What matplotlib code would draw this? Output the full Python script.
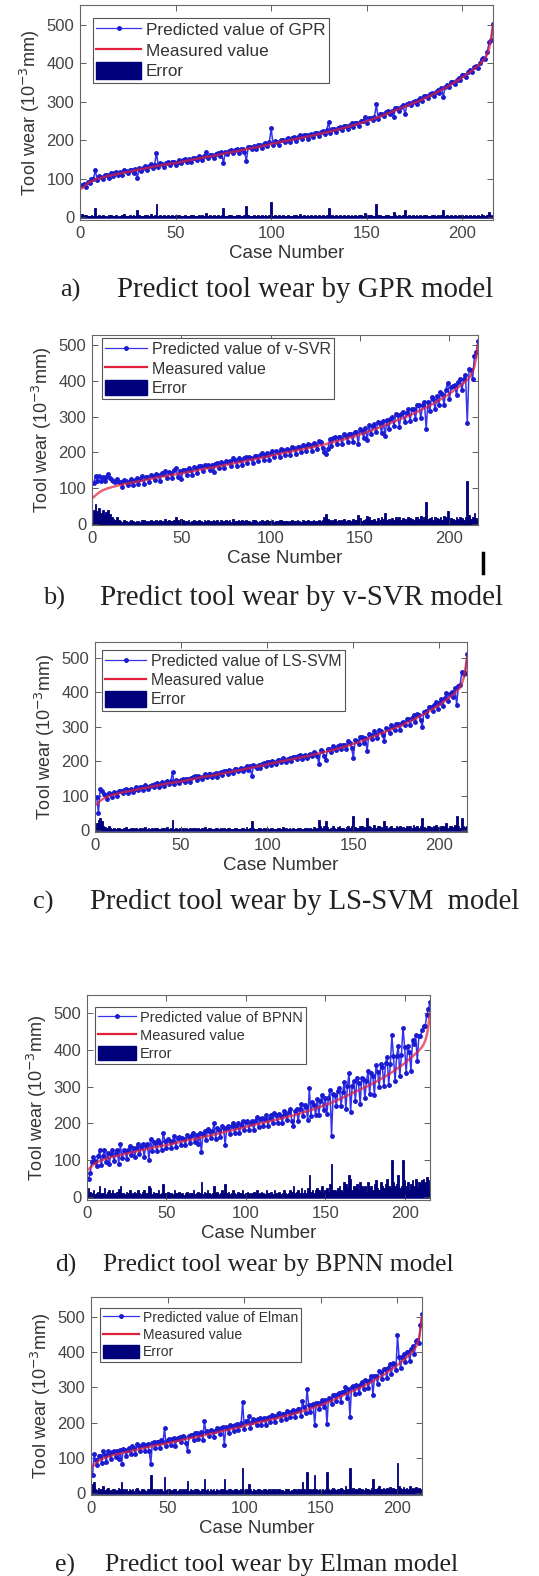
import numpy as np
import matplotlib
matplotlib.use("Agg")
import matplotlib.pyplot as plt
from matplotlib.patches import Patch
from matplotlib.lines import Line2D

W, H = 539, 1576

# measured tool wear, cases 1..216 (10^-3 mm)
measured = [
    75, 80, 84, 88, 91, 94, 96, 98, 100, 101, 103, 104, 105, 107, 108, 109, 110, 111, 112, 113, 114, 115, 116, 117,
    118, 119, 120, 121, 122, 123, 124, 125, 126, 127, 128, 129, 130, 131, 132, 133, 134, 135, 136, 136, 137, 138, 139, 140,
    140, 141, 142, 143, 144, 145, 146, 147, 148, 149, 150, 151, 152, 153, 154, 155, 156, 157, 157, 158, 159, 160, 161, 162,
    163, 164, 165, 166, 167, 168, 169, 170, 171, 172, 173, 174, 175, 176, 177, 178, 179, 180, 181, 182, 183, 184, 185, 186,
    187, 188, 189, 191, 192, 193, 194, 195, 196, 197, 198, 199, 200, 201, 202, 203, 204, 205, 206, 207, 208, 209, 210, 211,
    212, 213, 214, 215, 216, 218, 219, 220, 221, 222, 223, 225, 226, 227, 228, 230, 231, 232, 234, 235, 236, 238, 239, 241,
    242, 244, 245, 247, 248, 250, 252, 253, 255, 257, 259, 260, 262, 264, 266, 268, 270, 272, 274, 276, 278, 280, 282, 284,
    286, 288, 290, 292, 294, 296, 298, 300, 302, 304, 306, 309, 311, 313, 316, 318, 321, 323, 326, 328, 331, 334, 336, 339,
    342, 345, 348, 351, 354, 357, 360, 364, 367, 371, 375, 378, 382, 386, 390, 394, 398, 403, 408, 415, 425, 440, 465, 500,
]

# signed error (predicted - measured) of each model
err_gpr = [
    8, 6, -5, 4, -3, 5, 3, 25, -4, 6, 3, -5, 4, 2, -6, 5, -3, 4, 6, -2, 3, -5, 8, 4,
    -3, 5, 4, -6, 3, -20, 5, -4, 3, 6, -5, 4, 8, -3, 5, 35, -4, 6, 3, -5, 4, 7, -3, 5,
    4, -6, 3, 5, -4, 3, 6, -3, 4, -5, 5, 3, -4, 6, 3, -5, 4, 12, -3, 5, 4, -6, 3, 5,
    -4, 6, -25, 4, -3, 5, 6, -4, 3, 5, -6, 4, 3, -5, -30, 6, 4, -3, 5, -4, 6, 3, -5, 4,
    5, -3, 6, 40, -4, 5, 3, -6, 4, 5, -3, 4, 6, -4, 3, 5, -5, 4, 8, -3, 5, 4, -6, 3,
    5, -4, 6, 3, -5, 4, 5, -3, 6, 25, -4, 5, 3, -6, 4, 5, -3, 6, 4, -5, 3, 6, -4, 5,
    4, -6, 5, 3, 12, -4, 6, 5, -3, 4, 35, -5, 6, 4, -3, 5, 6, -4, 3, -15, 5, 4, -6, 3,
    5, -20, 4, 6, -3, 5, 4, -6, 3, 5, -4, 6, 5, -3, 4, 6, -5, 3, 5, -4, 6, -20, 4, 5,
    -3, 6, 4, -5, 3, 5, -4, 6, 3, -5, 4, 6, -3, 5, 4, -6, 3, 8, 5, -4, 6, 15, -5, 3,
]
err_svr = [
    40, 55, 35, 45, 30, 38, 25, 32, 40, 28, 20, 15, 12, 18, 10, 8, -6, 12, 9, -5, 7, 10, -8, 6,
    9, -7, 5, 12, -10, 8, 6, -9, 11, 7, -6, 10, 8, -12, 9, 6, 15, -8, 10, 7, -9, 12, 18, -10,
    8, -15, 10, 7, -8, 12, 6, -9, 10, 8, -7, 11, 9, -6, 12, 8, 10, -7, 9, -12, 8, 11, -6, 10,
    7, -9, 12, 8, 10, -6, 14, 9, -8, 11, 7, -10, 8, 12, -7, 9, 6, -11, 10, 8, -6, 9, 12, -8,
    7, 10, -9, 8, 11, -6, 9, 7, -10, 12, 8, -7, 9, 6, -8, 11, 7, -9, 10, 8, -6, 12, 9, -7,
    10, 8, -9, 11, 7, -8, 12, 9, -10, -20, -28, -15, 10, -8, 12, 14, -9, 10, 8, -12, 15, 9, -10, 11,
    8, -14, 12, 10, -25, 16, 9, -12, 14, -22, 18, -10, 12, 15, -9, 16, 11, -18, 14, -30, 12, -15, 10, 16,
    -12, 18, 14, -20, 12, 16, -14, 10, 18, -16, 14, 12, -18, 20, 15, -22, 12, 18, -60, 14, -16, 20, 12, -18,
    16, -14, 20, 12, -22, 18, 35, -15, 16, 14, 12, -18, 15, 20, -16, 12, 18, -120, 25, 14, -20, 30, 16, 10,
]
err_ls = [
    20, -30, 35, 25, 12, 8, -6, 10, 5, -4, 7, 3, -5, 6, 4, -3, 5, 8, -4, 3, 6, -5, 4, 7,
    -3, 5, 4, -6, 8, 3, -5, 4, 6, -3, 5, 7, -4, 3, 6, -5, 4, 8, -3, 5, 30, -4, 6, 3,
    -5, 4, 6, -3, 5, 4, -6, 3, 5, 7, -4, 6, 3, -5, 4, 8, -3, 5, 6, -4, 3, 5, -6, 4,
    6, -3, 5, 4, -5, 7, 3, -4, 6, 5, -3, 4, 6, -5, 3, 8, -4, 5, -25, 6, 4, -3, 5, -6,
    4, 6, -3, 5, 4, -5, 7, 3, -4, 6, 5, -3, 8, 4, -6, 3, 5, -4, 6, 4, -3, 5, 7, -4,
    3, 6, -5, 4, 5, -3, 8, 4, -6, -30, 10, 5, -12, -25, 8, 4, -6, 12, 5, -4, 8, 10, -5, 6,
    4, -8, 12, 6, -10, -40, 8, 5, -6, 12, 10, -8, 6, -35, 12, 8, -6, 14, 5, -10, 12, 8, -6, -25,
    10, 6, -8, 12, 5, -6, 10, 8, -12, 6, 9, -5, 12, 8, -10, 6, 14, -8, 10, 5, -12, -35, 8, 6,
    -10, 12, 8, -6, 10, 14, -8, 6, 12, -10, 8, 20, -6, 10, 12, -8, 15, -40, 10, 6, 35, 12, -8, 10,
]
err_bp = [
    -25, -15, 12, 20, 8, -10, 15, 30, -12, 10, 25, -8, 15, -18, 10, 20, -12, 8, 15, -22, 30, -10, 12, 8,
    -15, 10, 20, -8, 12, -14, 10, 18, -10, 8, 15, -20, 10, 12, -30, 25, -8, 15, 10, -12, 18, 8, -10, 35,
    12, -8, 15, 10, -12, 8, 20, -10, 12, 15, -8, 10, 6, -12, 15, 8, -10, 12, 18, -8, 10, -15, 12, -40,
    8, 15, -10, 20, 12, -8, 10, 30, -12, 15, 8, -10, 18, 12, -35, 10, 15, -8, 12, 20, -10, 8, 15, -12,
    10, 18, -8, 12, 15, -10, 8, 12, -15, 10, 20, -8, 12, 15, -10, 8, 18, -12, 10, 15, -8, 20, 12, -10,
    15, 8, -12, 18, 10, -8, 12, 20, -15, -30, 10, 15, -20, 12, 25, -10, 18, 12, -25, 60, -15, 20, 12, -18,
    25, -20, 15, 30, -12, 20, -25, 15, 35, -90, 20, 18, -15, 25, 30, -20, 15, 40, -35, 25, 60, -50, 20, 30,
    -25, 35, 20, -40, 30, 25, -30, 15, 40, -25, 30, 20, -35, 45, 25, -20, 40, 30, -25, 35, 50, -30, 25, 100,
    40, -30, 35, 60, -25, 30, 100, 45, -30, 40, 20, -35, 45, 30, 50, -25, 40, 35, 45, 50, 40, 55, 45, 30,
]
err_el = [
    -25, 30, 10, -8, 15, 12, -10, 20, 8, -12, 15, 6, -8, 10, 12, -6, 8, -15, 10, -30, 12, 8, -10, 6,
    10, -8, 12, 6, -10, 15, 8, -6, 10, 12, -8, 6, 10, -12, -50, 8, 12, -6, 10, 8, -10, 12, 6, 45,
    -8, 10, 12, -6, 8, 10, -12, 6, 8, 10, -6, 12, 8, -10, -35, 6, 10, 8, -6, 12, 10, -8, 6, 10,
    -12, 40, 8, 10, -6, 12, 8, -10, 6, 12, 8, -6, 10, 12, -40, 8, 6, -10, 12, 8, -6, 10, 12, -8,
    6, 10, 70, -8, 12, 8, 25, -10, 6, 12, 8, -6, 10, 12, -8, 6, 10, -12, 8, 10, -6, 12, 8, -10,
    6, 10, 12, -8, 8, 6, -10, 12, 10, -6, 8, 12, -10, 6, 10, 8, -12, 30, 10, -8, 60, 12, -10, 8,
    10, -50, 12, 8, -10, 6, 12, -8, 10, -60, 12, 8, -10, 15, 12, -8, 10, 12, -15, 10, 8, 20, -12, 10,
    -70, 12, 15, -10, 12, 8, -15, 10, 12, -8, 15, 10, -12, 8, 15, -40, 12, 10, -15, 20, 12, -10, 15, 12,
    -15, 10, 18, -12, 15, 10, -10, 85, 20, -15, 12, 18, -10, 15, 12, -20, 10, 15, -12, 18, 10, -15, 12, 8,
]

models = ['GPR', 'v-SVR', 'LS-SVM', 'BPNN', 'Elman']
errors = [err_gpr, err_svr, err_ls, err_bp, err_el]
letters = ['a)', 'b)', 'c)', 'd)', 'e)']
captions = ['Predict tool wear by GPR model',
            'Predict tool wear by v-SVR model',
            'Predict tool wear by LS-SVM  model',
            'Predict tool wear by BPNN model',
            'Predict tool wear by Elman model']
xticks = [0, 50, 100, 150, 200]
yticks = [0, 100, 200, 300, 400, 500]

# layout (pixels): axes left, top, right, bottom
boxes = [(80, 5, 493, 220), (92, 335, 478, 525), (95, 642, 467, 832),
         (87, 995, 430, 1200), (91, 1297, 422, 1495)]
ylims = [(-7, 552), (-3, 528), (-6, 546), (-8, 549), (-6, 557)]
leg_pos = [(93, 18), (102, 338), (102, 650), (95, 1007), (100, 1308)]
leg_fs = [12.3, 11.5, 11.4, 10.5, 10.0]
cap_y = [290, 598, 902, 1265, 1565]
cap_x = [(60, 117), (43, 100), (33, 90), (55, 103), (55, 105)]
cap_fs = [20.8, 21.0, 20.6, 18.4, 18.5]

plt.rcParams['font.family'] = ['Liberation Sans', 'DejaVu Sans']

fig = plt.figure(figsize=(W / 100, H / 100), dpi=100)
fig.patch.set_facecolor('white')

x = np.arange(1, len(measured) + 1)
meas = np.array(measured, dtype=float)

for i in range(5):
    L, T, R, B = boxes[i]
    ax = fig.add_axes([L / W, 1 - B / H, (R - L) / W, (B - T) / H])
    err = np.array(errors[i], dtype=float)
    pred = meas + err

    ax.bar(x, np.abs(err), width=1.0, color='#00007a', edgecolor='#00007a', linewidth=0.6, zorder=1)
    ax.axhline(0, color='#00007a', lw=1.8, zorder=1)
    ax.plot(x, pred, color='#3434f0', lw=1.1, marker='.', ms=5,
            mfc='#1a1ad0', mec='#1a1ad0', zorder=2)
    ax.plot(x, meas, color='#e0203a', lw=1.8, alpha=0.7, zorder=3)

    ax.set_xlim(0, 216)
    ax.set_ylim(*ylims[i])
    ax.set_xticks(xticks)
    ax.set_yticks(yticks)
    ax.tick_params(direction='in', length=4, width=0.6, top=True, right=True,
                   labelsize=12, colors='#444444', pad=4)
    for s in ax.spines.values():
        s.set_color('#666666')
        s.set_linewidth(0.8)
    ax.set_xlabel('Case Number', fontsize=13.5, color='#333333', labelpad=3)
    ax.set_ylabel('Tool wear (10$^{-3}$mm)', fontsize=13, color='#333333', labelpad=3)

    handles = [Line2D([], [], color='#3434f0', lw=0.9, marker='.', ms=5, mfc='#1a1ad0', mec='#1a1ad0'),
               Line2D([], [], color='#e0203a', lw=1.6),
               Patch(facecolor='#00007a', edgecolor='#00007a')]
    labels = ['Predicted value of ' + models[i], 'Measured value', 'Error']
    lx, ly = leg_pos[i]
    leg = ax.legend(handles, labels, loc='upper left', bbox_to_anchor=(lx / W, 1 - ly / H),
                    bbox_transform=fig.transFigure, borderaxespad=0, fontsize=leg_fs[i],
                    fancybox=False, framealpha=1, edgecolor='#555555', borderpad=0.2,
                    labelspacing=0.2, handlelength=2.6, handleheight=1.1, handletextpad=0.3)
    leg.get_frame().set_linewidth(0.8)
    for t in leg.get_texts():
        t.set_color('#333333')

    fig.text(cap_x[i][0] / W, 1 - cap_y[i] / H, letters[i], family='Liberation Serif',
             fontsize=min(cap_fs[i], 19), va='center', ha='left', color='#222222')
    fig.text(cap_x[i][1] / W, 1 - cap_y[i] / H, captions[i], family='Liberation Serif',
             fontsize=cap_fs[i], va='center', ha='left', color='#222222')

# cursor-like mark below panel b
fig.add_artist(Line2D([483 / W, 483 / W], [1 - 553 / H, 1 - 573 / H], color='black', lw=2.5,
                      transform=fig.transFigure))

fig.savefig('out.png', dpi=100)
